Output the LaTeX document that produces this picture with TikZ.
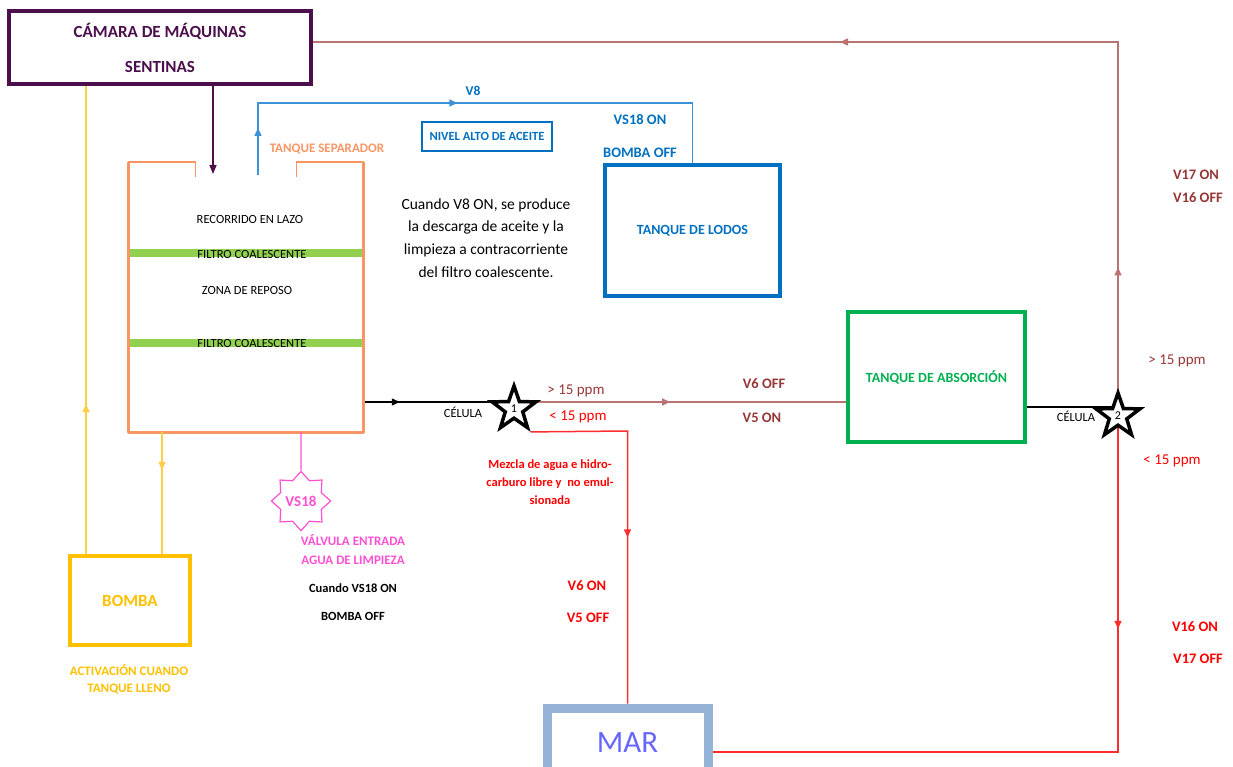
\documentclass[tikz,border=0pt]{standalone}
\usepackage{fontspec}
\setmainfont{Carlito}
\usetikzlibrary{arrows.meta,shapes.geometric,decorations.markings,backgrounds}
\definecolor{morado}{RGB}{75,15,75}
\definecolor{naranja}{RGB}{247,150,100}
\definecolor{verdefiltro}{RGB}{146,208,80}
\definecolor{azul}{RGB}{0,112,192}
\definecolor{azulclaro}{RGB}{60,145,215}
\definecolor{verde}{RGB}{0,176,80}
\definecolor{marron}{RGB}{150,55,55}
\definecolor{marronclaro}{RGB}{185,115,115}
\definecolor{rojo}{RGB}{255,0,0}
\definecolor{rojoclaro}{RGB}{255,45,45}
\definecolor{amarillo}{RGB}{255,192,0}
\definecolor{amarilloclaro}{RGB}{255,205,70}
\definecolor{rosa}{RGB}{255,80,210}
\definecolor{marborde}{RGB}{149,179,215}
\definecolor{martexto}{RGB}{102,102,255}
\newcommand{\tam}[2]{\fontsize{#1}{#2}\selectfont}
\tikzset{
  caja/.style={draw, rectangle, line width=4pt, inner sep=0pt, font=\bfseries\tam{14}{16}},
  flecha/.style={postaction={decorate,decoration={markings,mark=at position #1 with {\arrow{Triangle[width=7pt,length=8pt]}}}}},
  celula/.style={star, star points=5, star point ratio=2.5, draw=black, line width=3.5pt, fill=white, minimum size=46pt, inner sep=0pt, font=\tam{12}{14}},
  rotulo/.style={font=\bfseries\tam{14.5}{17}},
}
\begin{document}
\begin{tikzpicture}[x=1pt,y=-1pt]
\useasboundingbox (0,0) rectangle (1233,767);
% Cajas
\node[caja, draw=morado, text=morado, minimum width=302pt, minimum height=73pt, align=center, font=\bfseries\tam{17}{35}] (camara) at (160,47.5) {CÁMARA DE MÁQUINAS\\SENTINAS};
\node[caja, draw=amarillo, text=amarillo, line width=4.5pt, minimum width=120pt, minimum height=89pt, font=\bfseries\tam{17}{19}] (bomba) at (130,600.5) {BOMBA};
\node[caja, draw=azul, text=azul, minimum width=175pt, minimum height=131pt] (lodos) at (692.5,230.5) {TANQUE DE LODOS};
\node[caja, draw=verde, text=verde, minimum width=177pt, minimum height=130pt] (absorcion) at (936.5,377) {TANQUE DE ABSORCIÓN};
\node[caja, draw=marborde, text=martexto, line width=9pt, minimum width=161pt, minimum height=70pt, font=\tam{31}{34}] (mar) at (627.5,743) {MAR};
\node[caja, draw=azul, text=azul, line width=1.5pt, minimum width=130pt, minimum height=29pt, font=\bfseries\tam{12.5}{14}] (nivel) at (487,136.5) {NIVEL ALTO DE ACEITE};
% Tanque separador
\node[minimum width=235pt, minimum height=270pt] (tanque) at (246,297) {};
\draw[verdefiltro, line width=8pt] (tanque.west |- 0,253) -- (tanque.east |- 0,253);
\draw[verdefiltro, line width=8pt] (tanque.west |- 0,343) -- (tanque.east |- 0,343);
\draw[naranja, line width=1.5pt] (tanque.north west) -- ++(67,0) -- ++(0,15);
\draw[naranja, line width=1.5pt] (tanque.north east) -- ++(-67,0) -- ++(0,15);
\draw[naranja, line width=3pt, line join=round] (tanque.north west) -- (tanque.south west) -- (tanque.south east) -- (tanque.north east);
\node[font=\tam{12.5}{14}] (lazo) at (250,219) {RECORRIDO EN LAZO};
\node[font=\tam{12.5}{14}] (filtro1) at (252,254) {FILTRO COALESCENTE};
\node[font=\tam{12.5}{14}] (reposo) at (247,290) {ZONA DE REPOSO};
\node[font=\tam{12.5}{14}] (filtro2) at (252,343) {FILTRO COALESCENTE};
\node[font=\bfseries\tam{13}{15}, text=naranja] (separador) at (327,149) {TANQUE SEPARADOR};
% Celulas y valvula
\coordinate (c1) at (514,409);
\coordinate (c2) at (1118,416);
\node[celula] (cel1) at (c1) {1};
\node[celula] (cel2) at (c2) {2};
\node[star, star points=8, star point ratio=1.35, draw=rosa, line width=1.2pt, minimum size=50pt, inner sep=0pt, text=rosa, font=\bfseries\tam{15}{17}] (vs18) at (301,501) {VS18};
% Conexiones
\begin{scope}[on background layer]
\draw[line width=1.2pt, flecha=0.24] (tanque.east |- 0,402) -- (c1 |- 0,402);
\draw[marronclaro, line width=1.5pt, flecha=0.47] (c1 |- 0,402) -- (absorcion.west |- 0,402);
\draw[line width=1.2pt] (absorcion.east |- 0,407) -- (c2 |- 0,407);
\draw[marronclaro, line width=1.5pt, flecha=0.126, flecha=0.553] (c2) -- (c2 |- 0,42) -- (camara.east |- 0,42);
\draw[rojoclaro, line width=1.5pt, flecha=0.287] (c2) -- (c2 |- 0,752) -- (mar.east |- 0,752);
\end{scope}
\coordinate (salida) at (cel1.outer point 4);
\coordinate (codo) at (627.5,431);
\draw[rojoclaro, line width=1.5pt, flecha=0.55] (salida) -- (codo) -- (mar.north);
\coordinate (entrada) at (213,174);
\draw[morado, line width=1.5pt, -{Triangle[width=7pt,length=9pt]}] (camara.south -| entrada) -- (entrada);
\coordinate (aceite) at (258,175);
\draw[azulclaro, line width=1.5pt, flecha=0.083, flecha=0.479] (aceite) -- (aceite |- 0,103) -- (lodos.north |- 0,103) -- (lodos.north);
\draw[amarilloclaro, line width=1.5pt, flecha=0.32] (bomba.north -| 86,0) -- (camara.south -| 86,0);
\draw[amarilloclaro, line width=1.5pt, flecha=0.31] (tanque.south -| 162,0) -- (bomba.north -| 162,0);
\draw[rosa, line width=1.2pt] (tanque.south -| vs18) -- (vs18.north);
% Textos
\node[rotulo, text=azul, font=\bfseries\tam{13.5}{16}] (v8) at (473,91) {V8};
\node[rotulo, text=azul] (vs18on) at (640,120) {VS18 ON};
\node[rotulo, text=azul] (bombaoff) at (640,153) {BOMBA OFF};
\node[font=\tam{15.5}{22.7}, align=center] (nota) at (486,238) {Cuando V8 ON, se produce\\la descarga de aceite y la\\limpieza a contracorriente\\del filtro coalescente.};
\node[font=\tam{12.5}{13}] (celula1) at (463,412) {CÉLULA};
\node[font=\tam{12.5}{13}] (celula2) at (1076,416) {CÉLULA};
\node[font=\tam{15}{17}, text=marron] (mayor1) at (576,391) {> 15 ppm};
\node[font=\tam{15}{17}, text=rojo] (menor1) at (578,417) {< 15 ppm};
\node[font=\tam{15}{17}, text=marron] (mayor2) at (1177,361) {> 15 ppm};
\node[font=\tam{15}{17}, text=rojo] (menor2) at (1172,461) {< 15 ppm};
\node[rotulo, text=marron] (v6off) at (764,384) {V6 OFF};
\node[rotulo, text=marron] (v5on) at (762,418) {V5 ON};
\node[rotulo, text=rojo] (v6on) at (587,586) {V6 ON};
\node[rotulo, text=rojo] (v5off) at (588,618) {V5 OFF};
\node[rotulo, text=marron] (v17on) at (1196,175) {V17 ON};
\node[rotulo, text=marron] (v16off) at (1198,198) {V16 OFF};
\node[rotulo, text=rojo] (v16on) at (1195,627) {V16 ON};
\node[rotulo, text=rojo] (v17off) at (1198,659) {V17 OFF};
\node[font=\bfseries\tam{12.5}{18}, text=rojo, align=center] (mezcla) at (550,482) {Mezcla de agua e hidro-\\carburo libre y~ no emul-\\sionada};
\node[font=\bfseries\tam{13}{19}, text=rosa, align=center] (valvula) at (353,549.5) {VÁLVULA ENTRADA\\AGUA DE LIMPIEZA};
\node[font=\bfseries\tam{12.5}{15}] (cuandovs) at (353,588) {Cuando VS18 ON};
\node[font=\bfseries\tam{12.5}{15}] (bombaoff2) at (353,616) {BOMBA OFF};
\node[font=\bfseries\tam{13}{17}, text=amarillo, align=center] (activacion) at (129,679.5) {ACTIVACIÓN CUANDO\\TANQUE LLENO};
\end{tikzpicture}
\end{document}
